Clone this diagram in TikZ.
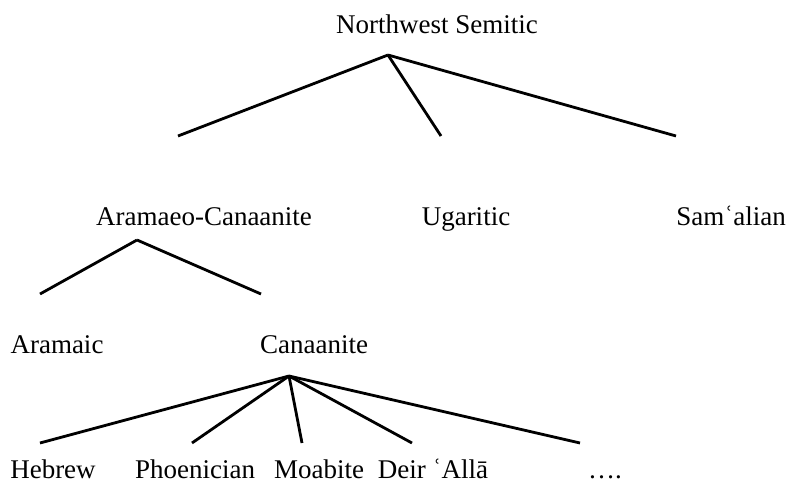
\documentclass[tikz,border=0pt]{standalone}
\usepackage{fontspec}
\setmainfont{Liberation Serif}
\usepackage{tikz}
\usetikzlibrary{positioning}

\begin{document}
\begin{tikzpicture}[x=0.5pt,y=-0.5pt,
    lang/.style={anchor=base,inner sep=0pt,font=\fontsize{13.5}{16}\selectfont},
    branch/.style={line width=1.4pt}]
    \useasboundingbox (0,0) rectangle (787,481);
    % languages
    \node[lang] (nws) at (437,34) {Northwest Semitic};
    \node[lang] (arcan) at (204,225) {Aramaeo-Canaanite};
    \node[lang] (ugar) at (466,225) {Ugaritic};
    \node[lang] (samal) at (731,225) {Samʿalian};
    \node[lang] (aram) at (57,353) {Aramaic};
    \node[lang] (canaan) at (314,353) {Canaanite};
    \node[lang] (hebrew) at (53,478) {Hebrew};
    \node[lang] (phoen) at (195,478) {Phoenician};
    \node[lang] (moab) at (319,478) {Moabite};
    \node[lang] (deir) at (433,478) {Deir ʿAllā};
    \node[lang] (more) at (605,478) {….};
    % branch points
    \coordinate (nws-b) at (388,55);
    \coordinate (arcan-t) at (178,136);
    \coordinate (ugar-t) at (441,136);
    \coordinate (samal-t) at (676,136);
    \coordinate (arcan-b) at (137,240);
    \coordinate (aram-t) at (40,294);
    \coordinate (canaan-t) at (261,294);
    \coordinate (canaan-b) at (289,376);
    \coordinate (hebrew-t) at (40,443);
    \coordinate (phoen-t) at (192,443);
    \coordinate (moab-t) at (302,443);
    \coordinate (deir-t) at (412,443);
    \coordinate (more-t) at (580,443);
    \foreach \c in {arcan,ugar,samal}
        \draw[branch] (nws-b) -- (\c-t);
    \foreach \c in {aram,canaan}
        \draw[branch] (arcan-b) -- (\c-t);
    \foreach \c in {hebrew,phoen,moab,deir,more}
        \draw[branch] (canaan-b) -- (\c-t);
\end{tikzpicture}
\end{document}
